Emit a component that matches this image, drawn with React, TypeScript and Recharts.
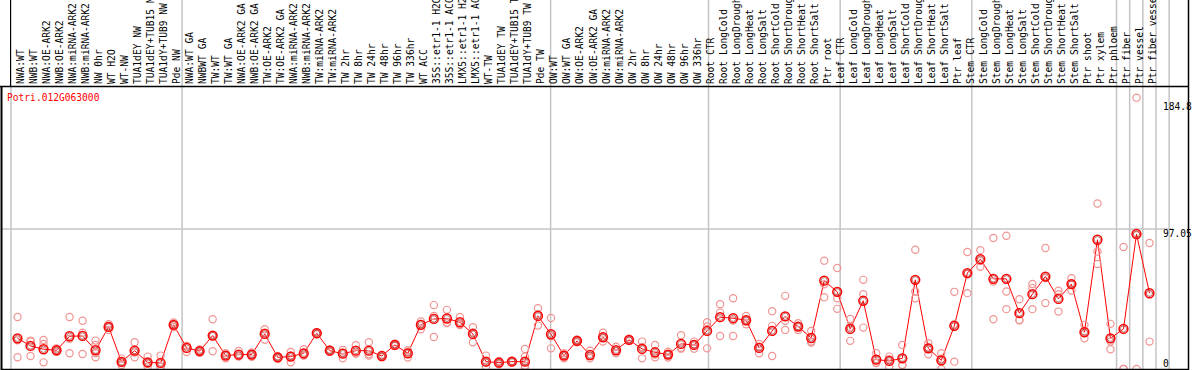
import React from 'react';
import { ComposedChart, Line, XAxis, YAxis, ReferenceLine } from 'recharts';

// sample labels, left to right
const categories = [
  'NWA:WT', 'NWB:WT', 'NWA:OE-ARK2', 'NWB:OE-ARK2', 'NWA:miRNA-ARK2', 'NWB:miRNA-ARK2', 'NW 0hr', 'WT H2O', 'WT-NW',
  'TUA1dEY NW', 'TUA1dEY+TUB15 NW', 'TUA1dY+TUB9 NW', 'Pde NW',
  'NWA:WT GA', 'NWBWT GA', 'TW:WT', 'TW:WT GA', 'NWA:OE-ARK2 GA', 'NWB:OE-ARK2 GA', 'TW:OE-ARK2', 'TW:OE-ARK2 GA',
  'NWA:miRNA-ARK2', 'NWB:miRNA-ARK2', 'TW:miRNA-ARK2', 'TW:miRNA-ARK2', 'TW 2hr', 'TW 8hr', 'TW 24hr', 'TW 48hr',
  'TW 96hr', 'TW 336hr', 'WT ACC', '35S::etr1-1 H2O', '35S::etr1-1 ACC', 'LMX5::etr1-1 H2O', 'LMX5::etr1-1 ACC',
  'WT-TW', 'TUA1dEY TW', 'TUA1dEY+TUB15 TW', 'TUA1dY+TUB9 TW', 'Pde TW',
  'OW:WT', 'OW:WT GA', 'OW:OE-ARK2', 'OW:OE-ARK2 GA', 'OW:miRNA-ARK2', 'OW:miRNA-ARK2', 'OW 2hr', 'OW 8hr',
  'OW 24hr', 'OW 48hr', 'OW 96hr', 'OW 336hr',
  'Root CTR', 'Root LongCold', 'Root LongDrought', 'Root LongHeat', 'Root LongSalt', 'Root ShortCold',
  'Root ShortDrought', 'Root ShortHeat', 'Root ShortSalt', 'Ptr root',
  'Leaf CTR', 'Leaf LongCold', 'Leaf LongDrought', 'Leaf LongHeat', 'Leaf LongSalt', 'Leaf ShortCold',
  'Leaf ShortDrought', 'Leaf ShortHeat', 'Leaf ShortSalt', 'Ptr leaf',
  'Stem CTR', 'Stem LongCold', 'Stem LongDrought', 'Stem LongHeat', 'Stem LongSalt', 'Stem ShortCold',
  'Stem ShortDrought', 'Stem ShortHeat', 'Stem ShortSalt', 'Ptr shoot', 'Ptr xylem',
  'Ptr phloem', 'Ptr fiber', 'Ptr vessel', 'Ptr fiber vessel',
];

// mean expression per sample
const meanValues = [
  21.3, 16.0, 13.7, 13.0, 22.7, 22.9, 13.0, 29.2, 4.9, 12.7, 4.6, 4.2, 30.6,
  14.6, 12.4, 23.2, 9.3, 10.0, 10.0, 24.3, 8.1, 8.6, 10.9, 24.8, 12.7, 10.6, 12.7, 12.7, 9.0,
  16.7, 10.9, 30.6, 34.7, 35.0, 32.4, 24.3, 5.1, 4.4, 5.1, 5.1, 36.8,
  24.1, 9.3, 19.5, 9.7, 22.0, 13.0, 20.2, 13.9, 11.6, 10.0, 17.4, 16.7,
  26.4, 35.9, 35.2, 33.8, 14.6, 26.4, 36.5, 29.4, 21.5, 61.2,
  53.5, 27.8, 47.3, 6.5, 5.6, 7.4, 61.8, 14.3, 6.0, 29.9,
  66.5, 76.1, 62.5, 62.5, 38.7, 51.9, 64.1, 48.6, 58.9, 25.5, 89.6,
  21.3, 27.8, 93.6, 52.6,
];

// replicate measurements
const rep1 = [
  36.1, 19.7, 20.1, 14.3, 36.1, 33.4, 19.7, 31.0, 7.2, 18.5, 8.6, 9.3, 32.2,
  16.0, 13.5, 34.5, 10.9, 12.5, 11.5, 27.6, 8.9, 11.8, 13.7, 25.5, 13.5, 13.2, 16.5, 18.5, 9.8,
  17.5, 13.0, 32.9, 44.3, 41.0, 36.1, 29.0, 9.3, 5.5, 5.6, 13.9, 42.2,
  35.4, 10.9, 20.5, 12.7, 25.2, 15.5, 21.0, 19.0, 16.7, 12.0, 23.4, 19.0,
  32.4, 44.9, 49.1, 36.8, 17.4, 40.1, 50.7, 31.8, 26.4, 75.1,
  70.0, 34.7, 61.8, 10.9, 8.6, 16.7, 82.7, 17.8, 10.9, 53.5,
  81.1, 82.4, 90.8, 92.4, 48.4, 58.9, 83.9, 54.2, 63.0, 30.6, 114.7,
  31.3, 84.6, 188.1, 87.4,
];
const rep2 = [
  19.9, 19.0, 17.4, 12.0, 21.0, 25.2, 10.9, 29.2, 4.7, 11.5, 3.6, 1.8, 30.6,
  16.0, 12.4, 23.0, 9.6, 9.0, 10.0, 25.2, 8.1, 9.4, 9.7, 24.8, 12.7, 11.2, 10.9, 10.3, 9.0,
  16.7, 11.8, 31.3, 36.8, 32.2, 30.6, 25.4, 4.4, 4.4, 5.1, 8.6, 38.1,
  22.6, 9.6, 19.5, 9.0, 21.8, 12.6, 20.2, 15.3, 10.0, 10.0, 14.7, 17.0,
  29.5, 39.1, 33.6, 33.6, 15.5, 29.9, 33.4, 29.4, 19.0, 58.7,
  49.1, 29.2, 51.9, 4.4, 6.6, 2.8, 53.7, 14.9, 7.1, 31.0,
  65.8, 75.1, 60.7, 53.7, 33.7, 56.1, 63.0, 51.9, 59.3, 24.6, 81.5,
  19.0, 0, 92.7, 51.4,
];
const rep3 = [
  8.1, 9.0, 4.6, 13.0, 10.9, 10.4, 8.1, 27.1, 2.8, 8.1, 1.6, 1.6, 29.0,
  11.8, 11.3, 12.3, 7.4, 8.6, 8.5, 20.2, 7.3, 4.6, 9.3, 24.1, 11.9, 7.4, 10.7, 9.3, 8.2,
  15.9, 7.9, 27.6, 22.2, 31.8, 30.5, 18.5, 1.6, 3.3, 4.6, 2.3, 30.1,
  14.3, 7.4, 18.5, 7.4, 19.0, 10.9, 19.4, 7.4, 8.1, 8.0, 14.1, 14.1,
  14.3, 22.9, 22.9, 31.0, 10.9, 9.0, 27.1, 27.1, 18.3, 49.8,
  41.7, 19.5, 28.7, 4.2, 1.6, 2.7, 49.1, 10.2, 0, 5.1,
  52.6, 70.9, 34.5, 41.5, 34.0, 41.5, 45.7, 39.8, 54.4, 21.3, 72.8,
  13.7, 0, 0, 19.0,
];
// a few samples have a fourth replicate
const extraReplicates = [
  { idx: 6, value: 16.7 },
  { idx: 39, value: 0.9 },
];

// y axis labels and group separators (in sample positions)
const valueTicks = [0, 97.05, 184.8];
const groupBounds = [0, 13, 41, 53, 63, 73, 84, 85, 86, 87, 88];

const Y_MAX = 195.5;
const LABEL_TOP = (Y_MAX * 369) / 282;
const GRID = '#c4c4c4';
const MONO = '"DejaVu Sans Mono", "Liberation Mono", monospace';

const data = categories.map((name, i) => {
  const extra = extraReplicates.find((e) => e.idx === i);
  return {
    name,
    mean: meanValues[i],
    r1: rep1[i],
    r2: rep2[i],
    r3: rep3[i],
    r4: extra ? extra.value : null,
  };
});

const CategoryTick = (props: any) => {
  const { x, payload } = props;
  return (
    <text
      transform={`translate(${x + 6.5},84) rotate(-90)`}
      fontFamily={MONO}
      fontSize={9.6}
      fill="#000"
      textAnchor="start"
    >
      {payload.value}
    </text>
  );
};

const ValueTick = (props: any) => {
  const { x, y, payload } = props;
  return (
    <text
      x={x}
      y={payload.value === 0 ? y - 2 : y + 7.5}
      fontFamily={MONO}
      fontSize={9.6}
      fill="#000"
      textAnchor="start"
    >
      {String(payload.value)}
    </text>
  );
};

const MeanDot = (props: any) => {
  const { cx, cy, index } = props;
  if (cx == null || cy == null) return <g key={`m${index}`} />;
  return (
    <g key={`m${index}`}>
      <circle cx={cx} cy={cy} r={4.4} fill="none" stroke="#ff0000" strokeWidth={1.5} />
      <circle cx={cx} cy={cy} r={3.1} fill="none" stroke="#880000" strokeWidth={0.5} />
    </g>
  );
};

const makeRepDot = (key: string) => (props: any) => {
  const { cx, cy, index, payload } = props;
  if (cx == null || cy == null || payload[key] == null) return <g key={`${key}${index}`} />;
  return (
    <circle key={`${key}${index}`} cx={cx} cy={cy} r={3.6} fill="none" stroke="#f09494" strokeWidth={1.2} />
  );
};

const App: React.FC = () => {
  return (
    <div style={{ position: 'absolute', left: 0, top: 0, width: 1194, height: 370, background: '#fff' }}>
      <ComposedChart width={1194} height={370} data={data} margin={{ top: 0, right: 0, bottom: 1, left: 11 }}>
        <XAxis
          dataKey="name"
          orientation="top"
          height={87}
          interval={0}
          padding={{ left: 6.5, right: 6.5 }}
          axisLine={false}
          tickLine={false}
          tick={CategoryTick}
        />
        <XAxis xAxisId="num" type="number" domain={[0, 88]} hide allowDataOverflow />
        <YAxis
          orientation="right"
          width={38}
          domain={[0, Y_MAX]}
          ticks={valueTicks}
          interval={0}
          axisLine={false}
          tickLine={false}
          tickSize={0}
          tickMargin={7}
          tick={ValueTick}
        />
        <ReferenceLine
          xAxisId="num"
          ifOverflow="visible"
          stroke={GRID}
          strokeWidth={1.5}
          segment={[{ x: -0.77, y: 97.05 }, { x: 88.3, y: 97.05 }]}
        />
        {groupBounds.map((b) => (
          <ReferenceLine
            key={b}
            xAxisId="num"
            ifOverflow="visible"
            stroke={GRID}
            strokeWidth={1.5}
            segment={[{ x: b, y: 0 }, { x: b, y: LABEL_TOP }]}
          />
        ))}
        {['r1', 'r2', 'r3', 'r4'].map((k) => (
          <Line
            key={k}
            dataKey={k}
            stroke="none"
            dot={makeRepDot(k)}
            activeDot={false}
            legendType="none"
            isAnimationActive={false}
          />
        ))}
        <Line
          dataKey="mean"
          stroke="#ff0000"
          strokeWidth={1}
          dot={MeanDot}
          activeDot={false}
          isAnimationActive={false}
        />
      </ComposedChart>
      <svg
        width={1194}
        height={370}
        style={{ position: 'absolute', left: 0, top: 0, pointerEvents: 'none' }}
      >
        <line x1={10.5} y1={0} x2={10.5} y2={87} stroke="#000" />
        <line x1={1.5} y1={86.5} x2={1.5} y2={370} stroke="#000" strokeWidth={2} />
        <line x1={0} y1={86.5} x2={1189} y2={86.5} stroke="#000" strokeWidth={1.5} />
        <line x1={1188.5} y1={0} x2={1188.5} y2={370} stroke="#000" strokeWidth={1.5} />
        <line x1={1} y1={369.5} x2={1189} y2={369.5} stroke="#000" strokeWidth={1.5} />
        <text x={7} y={101} fontFamily={MONO} fontSize={9.6} fill="#ff0000">
          Potri.012G063000
        </text>
      </svg>
    </div>
  );
};

export default App;
